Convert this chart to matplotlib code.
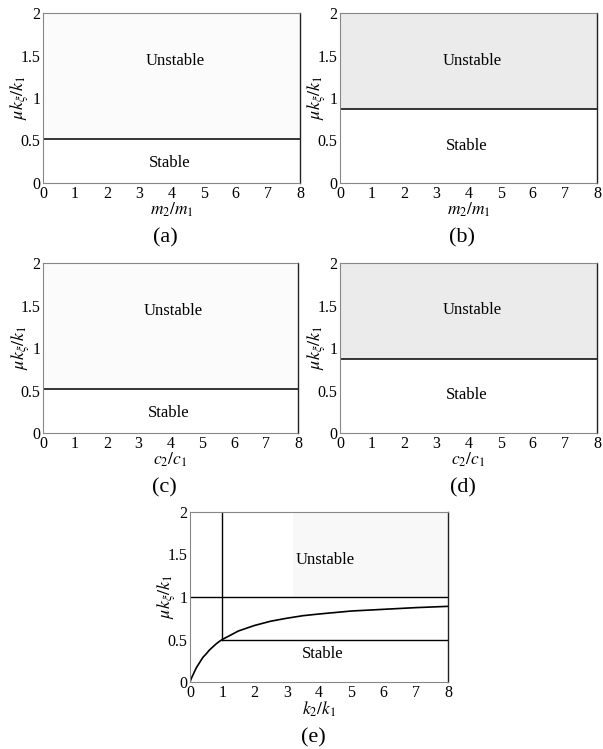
import matplotlib
matplotlib.use("Agg")
from matplotlib import pyplot as plt

plt.rcParams["font.family"] = ["Liberation Serif", "DejaVu Serif"]
plt.rcParams["mathtext.fontset"] = "stix"

# ratio axis and stability threshold ticks
x_ticks = [0, 1, 2, 3, 4, 5, 6, 7, 8]
y_ticks = [0, 0.5, 1, 1.5, 2]
y_tick_labels = ["0", "0.5", "1", "1.5", "2"]

# panels (a)-(d): critical friction level for each ratio sweep
boundary_levels = [0.52, 0.87, 0.52, 0.87]
x_names = [r"$m_2/m_1$", r"$m_2/m_1$", r"$c_2/c_1$", r"$c_2/c_1$"]
panel_tags = ["(a)", "(b)", "(c)", "(d)"]
unstable_y = [1.44, 1.44, 1.44, 1.45]
stable_y = [0.24, 0.44, 0.24, 0.45]

# panel (e): stiffness ratio sweep
k_ratio = [0, 0.05, 0.1, 0.2, 0.3, 0.4, 0.5, 0.6, 0.7, 0.8, 0.9, 1,
           1.5, 2, 2.5, 3, 3.5, 4, 5, 6, 7, 8]
mu_curve = [0, 0.05, 0.09, 0.17, 0.23, 0.29, 0.33, 0.375, 0.41, 0.445,
            0.475, 0.5, 0.6, 0.665, 0.715, 0.75, 0.78, 0.8, 0.835, 0.855,
            0.875, 0.89]
e_upper = 1.0
e_lower = 0.5
e_split = 1.0

W, H = 603, 749
fig = plt.figure(figsize=(W / 100, H / 100), dpi=100)


def make_axes(left, top, right, bottom):
    ax = fig.add_axes([left / W, 1 - bottom / H, (right - left) / W, (bottom - top) / H])
    ax.set_xlim(0, 8)
    ax.set_ylim(0, 2)
    ax.set_xticks(x_ticks)
    ax.set_yticks(y_ticks)
    ax.set_yticklabels(y_tick_labels)
    ax.tick_params(length=0, pad=2, labelsize=11.5)
    for side in ["top", "left", "bottom"]:
        ax.spines[side].set_color("#888888")
        ax.spines[side].set_linewidth(0.8)
        ax.spines[side].set_linestyle((0, (1, 1)))
    ax.spines["right"].set_color("#222222")
    ax.spines["right"].set_linewidth(1.0)
    ax.set_ylabel(r"$\mu k_\xi/k_1$", fontsize=13)
    ax.yaxis.set_label_coords(-0.045, 0.5)
    return ax


boxes = [(43, 13, 300, 183), (340, 13, 597, 183),
         (43, 263, 298, 433), (340, 263, 597, 433)]

for i in range(4):
    ax = make_axes(*boxes[i])
    level = boundary_levels[i]
    shade = "#ebebeb" if level > 0.7 else "#fbfbfb"
    ax.fill_between([0, 8], level, 2, color=shade, lw=0)
    ax.plot([0, 8], [level, level], color="black", lw=1.1)
    ax.text(4.1, unstable_y[i], "Unstable", ha="center", va="center", fontsize=12)
    ax.text(3.95, stable_y[i], "Stable", ha="center", va="center", fontsize=12)
    ax.set_xlabel(x_names[i], fontsize=12.5, labelpad=-1)
    l, t, r, b = boxes[i]
    fig.text((l + r) / 2 / W - 0.01, 1 - (b + 55) / H, panel_tags[i],
             ha="center", va="center", fontsize=16)

# panel (e)
ax = make_axes(190, 512, 448, 682)
ax.fill_between([3.2, 8], e_upper, 2, color="#f8f8f8", lw=0)
ax.plot([0, 8], [e_upper, e_upper], color="black", lw=1.0)
ax.plot([e_split, e_split], [e_lower, 2], color="black", lw=1.0)
ax.plot([e_split, 8], [e_lower, e_lower], color="black", lw=1.0)
ax.plot(k_ratio, mu_curve, color="black", lw=1.2)
ax.text(4.2, 1.44, "Unstable", ha="center", va="center", fontsize=12)
ax.text(4.1, 0.33, "Stable", ha="center", va="center", fontsize=12)
ax.set_xlabel(r"$k_2/k_1$", fontsize=12.5, labelpad=-1)
fig.text(313 / W, 1 - 738 / H, "(e)", ha="center", va="center", fontsize=16)

fig.savefig("out.png", dpi=100)
